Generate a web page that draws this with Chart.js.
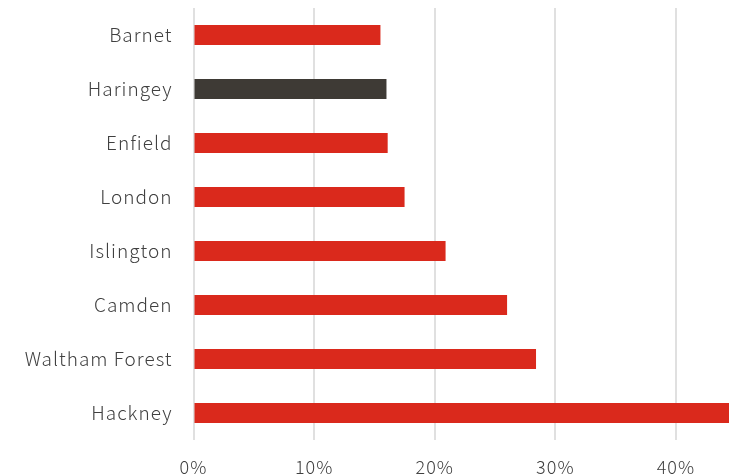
<!DOCTYPE html>
<html><head><meta charset="utf-8">
<script src="https://cdn.jsdelivr.net/npm/chart.js@4/dist/chart.umd.min.js"></script>
<style>html,body{margin:0;padding:0;background:#fff}#wrap{width:729px;height:476px}</style>
</head><body><div id="wrap"><canvas id="c"></canvas></div>
<script>
const categories = ["Barnet","Haringey","Enfield","London","Islington","Camden","Waltham Forest","Hackney"];
const values = [15.5, 16.0, 16.1, 17.5, 20.9, 26.0, 28.4, 45.0];
const tickValues = [0, 10, 20, 30, 40];
const highlight = "Haringey";
const red = "#da291c", dark = "#3e3a35";
const font = "'Noto Sans CJK JP', 'Noto Sans', sans-serif";
const spacing = {
  id: 'spacing',
  beforeDraw: c => { c.ctx.letterSpacing = '1px'; }
};
new Chart(document.getElementById('c'), {
  type: 'bar',
  data: { labels: categories, datasets: [{ data: values,
    backgroundColor: categories.map(c => c === highlight ? dark : red),
    barPercentage: 0.74, categoryPercentage: 0.5 }] },
  options: {
    indexAxis: 'y', responsive: true, maintainAspectRatio: false, animation: false,
    layout: { padding: { top: 8, right: 0, left: 0, bottom: 0 } },
    plugins: { legend: { display: false }, tooltip: { enabled: false } },
    scales: {
      x: { min: 0, max: 44.4,
        afterBuildTicks: s => { s.ticks = tickValues.map(v => ({ value: v })); },
        afterFit: s => { s.height = 36; s.paddingLeft = 0; s.paddingRight = 0; },
        grid: { color: '#e0e0e0', lineWidth: 2, drawTicks: false },
        border: { display: false },
        ticks: { padding: 16, color: '#404040', font: { family: font, size: 18, weight: 300 }, callback: v => v + '%' } },
      y: { afterFit: s => { s.width = 193.5; s.paddingTop = 0; s.paddingBottom = 0; },
        grid: { display: false }, border: { display: false },
        ticks: { padding: 13, color: '#404040', font: { family: font, size: 19, weight: 300 } } }
    }
  },
  plugins: [spacing]
});
</script></body></html>
